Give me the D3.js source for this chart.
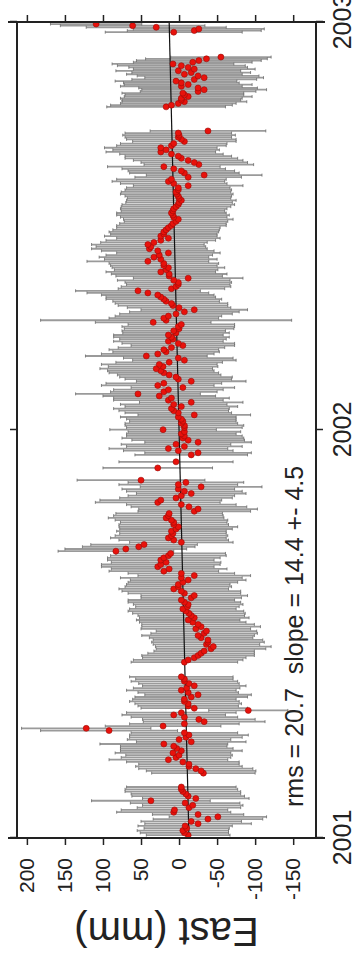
<!DOCTYPE html>
<html>
<head>
<meta charset="utf-8">
<script src="https://cdn.jsdelivr.net/npm/d3@7"></script>
<style>
  html, body { margin: 0; padding: 0; background: #fff; }
  svg { display: block; font-family: "Liberation Sans", Arial, Helvetica, sans-serif; }
</style>
</head>
<body>
<div id="chart"></div>
<script>
// GPS east component, mm. Each segment is a run of roughly daily solutions
// between segStart and segEnd (decimal years).
const segStart = [2001.007, 2001.159, 2001.431, 2001.907, 2001.939, 2002.792, 2002.975];
const segEnd   = [2001.125, 2001.395, 2001.877, 2001.922, 2002.733, 2002.914, 2002.995];

const east = [
  [-12, -7, -5, -10, -8, -25, -16, -38, -51, -25, 7, 6, -13, -18, -8, 37, -22, -12, -9, -5, -3, -3],
  [-32, -29, -22, -13, -13, -5, 14, 4, 0, 8, -3, 3, 7, 20, -16, 0, -9, -13, -7, 92,
   122, 21, -7, -33, -26, -7, 7, -3, -91, -20, -12, -12, -7, -7, -16, -25, -12, -3, -10, -20,
   -13, -7, -7, -3],
  [-7, -12, -20, -25, -29, -33, -42, -45, -36, -38, -38, -29, -25, -33, -36, -22, -29, -25, -18, -12,
   -20, -16, -13, -9, -5, -11, -12, -7, -3, -16, -20, -7, -3, 7, 1, 1, -5, -12, -3, -20,
   -3, 20, 13, 28, 24, 17, 24, 20, 14, 11, 83, 70, 53, 46, -3, 7, 14, 10, 8, 10,
   4, 1, 7, 7, 10, 17, 14, 13, -20, -25, -13, -3, 28, 24, 4, -3, -16, -7, 1, -29,
   1, -9, 50],
  [28, 4],
  [-16, -25, 1, 14, -7, 4, -25, -12, -5, -7, -3, -7, 21, -7, -7, -3, -5, -3, 1, -20,
   1, 7, 10, -3, 7, -16, 14, 10, 26, 54, 20, 14, -5, 28, 20, -16, 1, 4, 13, 20,
   24, 30, 21, 26, 13, -7, 1, 43, 28, 17, 20, 10, -5, 1, 14, 8, 10, 14, 4, 7,
   0, 1, -3, 34, 17, 20, 14, 4, -7, -20, 0, 8, 10, 17, 20, 24, 28, 41, 54, 10,
   4, 1, 1, 7, -12, 13, 13, 24, 17, 14, 20, 20, 41, 24, 33, 26, 14, 28, 39, 37,
   41, 33, 24, 14, 24, 20, 20, 17, 14, 10, 8, 4, 1, 7, 8, 10, 8, 7, 4, 1,
   0, -3, 0, 1, 3, 4, 1, 1, -12, 7, 14, 10, -12, -33, -7, -3, 7, 20, -26, -20,
   -12, -3, 1, 10, 24, 17, 24, 10, 7, -7, -3, 1, 0, 1, -38],
  [17, 10, 1, -7, -3, -3, -12, -7, -5, -25, -33, -25, -3, -12, -3, 4, -20, -33, -25, -7,
   -16, 1, -20, -12, -3, 8, -18, -26, -36, -55],
  [7, -20, -26, 30, 61, 109]
];

// one-sigma error, mm
const sigma = [
  [55, 58, 60, 56, 62, 70, 66, 72, 64, 60, 75, 70, 68, 66, 72, 78, 70, 74, 72, 76, 74, 72],
  [68, 72, 75, 70, 66, 74, 78, 72, 70, 76, 80, 74, 70, 84, 72, 68, 74, 78, 70, 90,
   85, 76, 72, 80, 74, 70, 68, 72, 52, 70, 66, 70, 72, 68, 74, 70, 66, 72, 70, 68,
   66, 70, 64, 68],
  [70, 72, 68, 74, 70, 66, 72, 76, 70, 74, 72, 68, 74, 70, 66, 72, 78, 74, 70, 68,
   72, 70, 74, 76, 70, 68, 72, 74, 70, 66, 70, 74, 78, 72, 70, 68, 72, 76, 80, 74,
   70, 72, 76, 74, 78, 72, 70, 74, 76, 72, 76, 80, 74, 70, 68, 72, 76, 74, 70, 72,
   74, 78, 72, 70, 74, 76, 72, 70, 74, 78, 76, 72, 82, 80, 74, 70, 72, 76, 74, 80,
   78, 76, 84],
  [72, 75],
  [74, 70, 72, 78, 76, 72, 70, 74, 80, 76, 72, 74, 70, 76, 78, 74, 70, 72, 76, 74,
   70, 72, 76, 74, 70, 68, 72, 76, 74, 82, 70, 72, 68, 74, 76, 72, 70, 74, 68, 72,
   70, 74, 72, 76, 70, 68, 72, 80, 74, 70, 72, 70, 68, 74, 72, 70, 76, 72, 70, 68,
   72, 74, 70, 76, 165, 72, 70, 74, 72, 70, 68, 72, 74, 70, 76, 72, 74, 80, 82, 70,
   72, 68, 70, 74, 72, 70, 76, 72, 68, 74, 70, 72, 80, 74, 72, 70, 68, 74, 76, 72,
   74, 70, 72, 68, 74, 70, 72, 70, 68, 72, 70, 68, 72, 70, 74, 72, 68, 70, 72, 74,
   70, 72, 68, 70, 74, 72, 70, 68, 72, 70, 74, 72, 70, 76, 72, 70, 68, 74, 72, 70,
   72, 74, 70, 68, 72, 70, 74, 72, 70, 68, 72, 70, 74, 70, 76],
  [78, 80, 76, 82, 78, 80, 84, 78, 80, 76, 82, 78, 80, 84, 76, 80, 82, 78, 80, 76,
   78, 82, 80, 78, 84, 80, 78, 82, 80, 66],
  [90, 88, 86, 92, 95, 60]
];

const trendEpochs = [2001, 2003];
const trendEast = [-13, 13];

const yearTicks = [2001, 2002, 2003];
const eastTicks = [-150, -100, -50, 0, 50, 100, 150, 200];
const yLabel = 'East (mm)';
const statsLabel = 'rms = 20.7  slope = 14.4 +- 4.5';

// the plot is drawn landscape and then turned a quarter turn
const W = 961, H = 360;
const margin = {left: 123, right: 22, top: 17, bottom: 44};

const points = [];
east.forEach((vals, s) => {
  const n = vals.length;
  vals.forEach((v, i) => {
    const t = n === 1 ? segStart[s] : segStart[s] + (segEnd[s] - segStart[s]) * i / (n - 1);
    points.push({t: t, v: v, e: sigma[s][i]});
  });
});

const x = d3.scaleLinear().domain([2001, 2003]).range([margin.left, W - margin.right]);
const y = d3.scaleLinear().domain([-180, 213]).range([H - margin.bottom, margin.top]);

const svg = d3.select('#chart').append('svg')
  .attr('width', H)
  .attr('height', W);

const g = svg.append('g')
  .attr('transform', `translate(0,${W}) rotate(-90)`);

g.append('clipPath').attr('id', 'plotclip')
  .append('rect')
  .attr('x', margin.left).attr('y', margin.top)
  .attr('width', W - margin.left - margin.right)
  .attr('height', H - margin.top - margin.bottom);

const plot = g.append('g').attr('clip-path', 'url(#plotclip)');

// error bars
plot.append('g').selectAll('line')
  .data(points)
  .join('line')
  .attr('x1', d => x(d.t)).attr('x2', d => x(d.t))
  .attr('y1', d => y(d.v - d.e)).attr('y2', d => y(d.v + d.e))
  .attr('stroke', '#9a9a9a')
  .attr('stroke-width', 1.8);

// bar caps
const caps = plot.append('g').attr('stroke', '#6a6a6a').attr('stroke-width', 0.8);
caps.selectAll('.lo').data(points).join('line').attr('class', 'lo')
  .attr('x1', d => x(d.t) - 1.5).attr('x2', d => x(d.t) + 1.5)
  .attr('y1', d => y(d.v - d.e)).attr('y2', d => y(d.v - d.e));
caps.selectAll('.hi').data(points).join('line').attr('class', 'hi')
  .attr('x1', d => x(d.t) - 1.5).attr('x2', d => x(d.t) + 1.5)
  .attr('y1', d => y(d.v + d.e)).attr('y2', d => y(d.v + d.e));

// linear trend
plot.append('line')
  .attr('x1', x(trendEpochs[0])).attr('y1', y(trendEast[0]))
  .attr('x2', x(trendEpochs[1])).attr('y2', y(trendEast[1]))
  .attr('stroke', '#111')
  .attr('stroke-width', 1.2);

// daily positions
plot.append('g').selectAll('circle')
  .data(points)
  .join('circle')
  .attr('cx', d => x(d.t))
  .attr('cy', d => y(d.v))
  .attr('r', 3)
  .attr('fill', '#e8120c')
  .attr('stroke', '#9a0c08')
  .attr('stroke-width', 0.6);

// axes
const ax = (sel) => {
  sel.select('.domain').remove();
  sel.selectAll('.tick line').attr('stroke', '#222').attr('stroke-width', 1.5);
  sel.selectAll('.tick text').attr('fill', '#222');
};

g.append('g')
  .attr('transform', `translate(${margin.left},0)`)
  .call(d3.axisLeft(y).tickValues(eastTicks).tickSize(7).tickPadding(13).tickFormat(d => String(d)))
  .attr('font-size', 21)
  .attr('font-family', null)
  .call(ax);

g.append('g')
  .attr('transform', `translate(${W - margin.right},0)`)
  .call(d3.axisRight(y).tickValues(eastTicks).tickSize(7).tickFormat(''))
  .call(ax);

g.append('g')
  .attr('transform', `translate(0,${H - margin.bottom})`)
  .call(d3.axisBottom(x).tickValues(yearTicks).tickSize(7).tickPadding(10).tickFormat(d => String(d)))
  .attr('font-size', 25)
  .attr('font-family', null)
  .call(ax);

g.append('g')
  .attr('transform', `translate(0,${margin.top})`)
  .call(d3.axisTop(x).tickValues(yearTicks).tickSize(7).tickFormat(''))
  .call(ax);

// frame: value-axis lines run a little past the frame
const frame = g.append('g').attr('stroke', '#222').attr('stroke-width', 2).attr('fill', 'none');
frame.append('line')
  .attr('x1', margin.left).attr('x2', margin.left)
  .attr('y1', margin.top - 9).attr('y2', H - margin.bottom + 9);
frame.append('line')
  .attr('x1', W - margin.right).attr('x2', W - margin.right)
  .attr('y1', margin.top - 9).attr('y2', H - margin.bottom + 9);
frame.append('line')
  .attr('x1', margin.left).attr('x2', W - margin.right)
  .attr('y1', margin.top).attr('y2', margin.top);
frame.append('line')
  .attr('x1', margin.left).attr('x2', W - margin.right)
  .attr('y1', H - margin.bottom).attr('y2', H - margin.bottom);

// axis title
g.append('text')
  .attr('transform', `translate(43,${(margin.top + H - margin.bottom) / 2}) rotate(-90)`)
  .attr('text-anchor', 'middle')
  .attr('font-size', 40)
  .attr('fill', '#222')
  .text(yLabel);

// fit statistics
g.append('text')
  .attr('x', 154)
  .attr('y', H - margin.bottom - 13)
  .attr('font-size', 25)
  .attr('fill', '#222')
  .attr('xml:space', 'preserve')
  .text(statsLabel);
</script>
</body>
</html>
